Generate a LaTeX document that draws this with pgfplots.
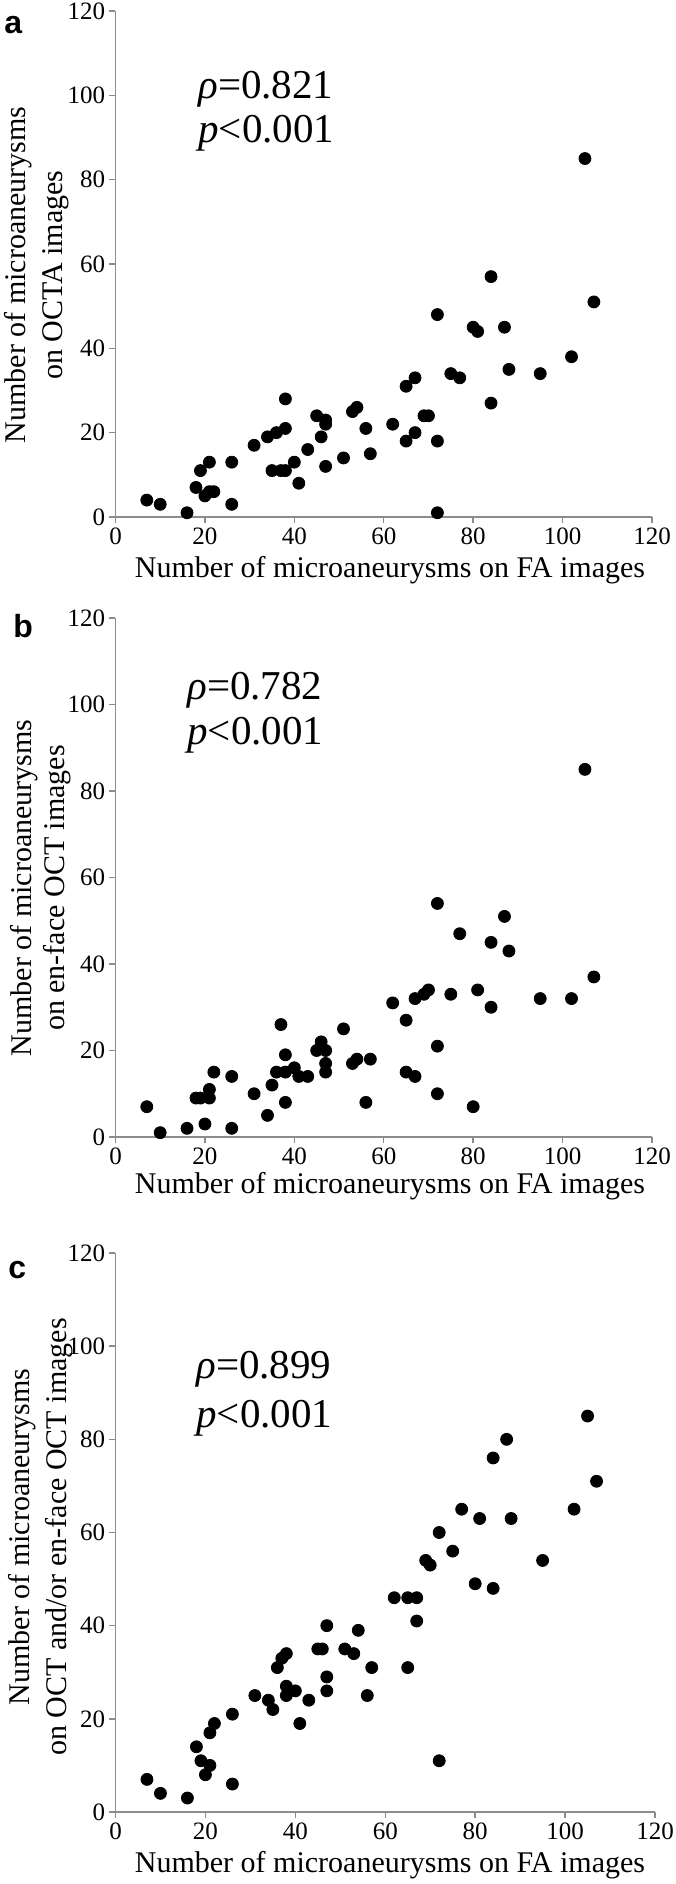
\documentclass[border=0pt]{standalone}
\usepackage{fontspec}
\setmainfont{Liberation Serif}
\newfontfamily\panelfont{Liberation Sans}
\usepackage{pgfplots}
\pgfplotsset{compat=1.18}

\definecolor{axisgray}{RGB}{140,140,140}

\pgfplotsset{
  maplot/.style={
    scale only axis, anchor=south west,
    xmin=0, xmax=120, ymin=0, ymax=120,
    xtick={0,20,...,120}, ytick={0,20,...,120},
    axis lines*=left,
    axis line style={axisgray, line width=0.7pt},
    tick style={axisgray, line width=0.7pt},
    tick align=outside, major tick length=3pt,
    tick label style={font=\fontsize{12.5}{14}\selectfont, inner sep=2pt},
    /pgf/number format/assume math mode=true,
    clip=false,
  },
  dots/.style={only marks, mark=*, mark size=3pt, black, mark options={draw=black, fill=black}},
}
\newcommand\lab{\fontsize{15}{18}\selectfont}
\newcommand\stat{\fontsize{20.5}{22}\selectfont}
\newcommand\pan{\panelfont\bfseries\fontsize{16}{18}\selectfont}

\begin{document}
\begin{tikzpicture}
\useasboundingbox (0,0) rectangle (337.5pt,942pt);

% ---- a: OCTA vs FA
\begin{axis}[maplot, at={(57.75pt,683.5pt)}, width=268.25pt, height=253pt]
\addplot[dots] coordinates {
(7,4) (10,3) (16,1) (18,7) (19,11) (20,5) (21,13) (21,6) (22,6) (26,13)
(26,3) (31,17) (34,19) (35,11) (36,20) (37,11) (38,28) (38,21) (38,11) (40,13)
(41,8) (43,16) (45,24) (46,19) (47,23) (47,22) (47,12) (51,14) (53,25) (54,26)
(56,21) (57,15) (62,22) (65,31) (65,18) (67,33) (67,20) (69,24) (70,24) (72,48)
(72,18) (72,1) (75,34) (77,33) (80,45) (81,44) (84,57) (84,27) (87,45) (88,35)
(95,34) (102,38) (105,85) (107,51)
};
\end{axis}

% ---- b: en-face OCT vs FA
\begin{axis}[maplot, at={(57.75pt,373.5pt)}, width=268.25pt, height=259.5pt]
\addplot[dots] coordinates {
(7,7) (10,1) (16,2) (18,9) (19,9) (20,3) (21,11) (21,9) (22,15) (26,14)
(26,2) (31,10) (34,5) (35,12) (36,15) (37,26) (38,19) (38,15) (38,8) (40,16)
(41,14) (43,14) (45,20) (46,22) (47,20) (47,17) (47,15) (51,25) (53,17) (54,18)
(56,8) (57,18) (62,31) (65,27) (65,15) (67,32) (67,14) (69,33) (70,34) (72,54)
(72,21) (72,10) (75,33) (77,47) (80,7) (81,34) (84,45) (84,30) (87,51) (88,43)
(95,32) (102,32) (105,85) (107,37)
};
\end{axis}

% ---- c: OCT and/or en-face OCT vs FA
\begin{axis}[maplot, at={(57.75pt,36pt)}, width=269.75pt, height=279.5pt]
\addplot[dots] coordinates {
(7,7) (10,4) (16,3) (18,14) (19,11) (20,8) (21,10) (21,17) (22,19) (26,21)
(26,6) (31,25) (34,24) (35,22) (36,31) (37,33) (38,34) (38,27) (38,25) (40,26)
(41,19) (43,24) (45,35) (46,35) (47,40) (47,29) (47,26) (51,35) (53,34) (54,39)
(56,25) (57,31) (62,46) (65,46) (65,31) (67,46) (67,41) (69,54) (70,53) (72,60)
(72,11) (75,56) (77,65) (80,49) (81,63) (84,76) (84,48) (87,80) (88,63) (95,54)
(102,65) (105,85) (107,71)
};
\end{axis}

% panel letters
\node[anchor=base west, inner sep=0pt] at (2pt,925pt) {\pan a};
\node[anchor=base west, inner sep=0pt] at (6.5pt,623pt) {\pan b};
\node[anchor=base west, inner sep=0pt] at (4pt,302.5pt) {\pan c};

% statistics
\node[anchor=base west, inner sep=0pt] at (99pt,892.5pt) {\stat\textit{ρ}=0.821};
\node[anchor=base west, inner sep=0pt] at (99pt,870.5pt) {\stat\textit{p}<0.001};
\node[anchor=base west, inner sep=0pt] at (93.5pt,592pt) {\stat\textit{ρ}=0.782};
\node[anchor=base west, inner sep=0pt] at (93.5pt,569.5pt) {\stat\textit{p}<0.001};
\node[anchor=base west, inner sep=0pt] at (98pt,252.5pt) {\stat\textit{ρ}=0.899};
\node[anchor=base west, inner sep=0pt] at (98pt,228pt) {\stat\textit{p}<0.001};

% x labels
\node[anchor=base, inner sep=0pt] at (195pt,653pt) {\lab Number of microaneurysms on FA images};
\node[anchor=base, inner sep=0pt] at (195pt,345pt) {\lab Number of microaneurysms on FA images};
\node[anchor=base, inner sep=0pt] at (195pt,5.5pt) {\lab Number of microaneurysms on FA images};

% y labels
\node[anchor=base, rotate=90, inner sep=0pt] at (12.5pt,804.5pt) {\lab Number of microaneurysms};
\node[anchor=base, rotate=90, inner sep=0pt] at (31pt,804.5pt) {\lab on OCTA images};
\node[anchor=base, rotate=90, inner sep=0pt] at (15.5pt,498pt) {\lab Number of microaneurysms};
\node[anchor=base, rotate=90, inner sep=0pt] at (32pt,498pt) {\lab on en-face OCT images};
\node[anchor=base, rotate=90, inner sep=0pt] at (14.5pt,173.5pt) {\lab Number of microaneurysms};
\node[anchor=base, rotate=90, inner sep=0pt] at (33pt,173.5pt) {\lab on OCT and/or en-face OCT images};
\end{tikzpicture}
\end{document}
